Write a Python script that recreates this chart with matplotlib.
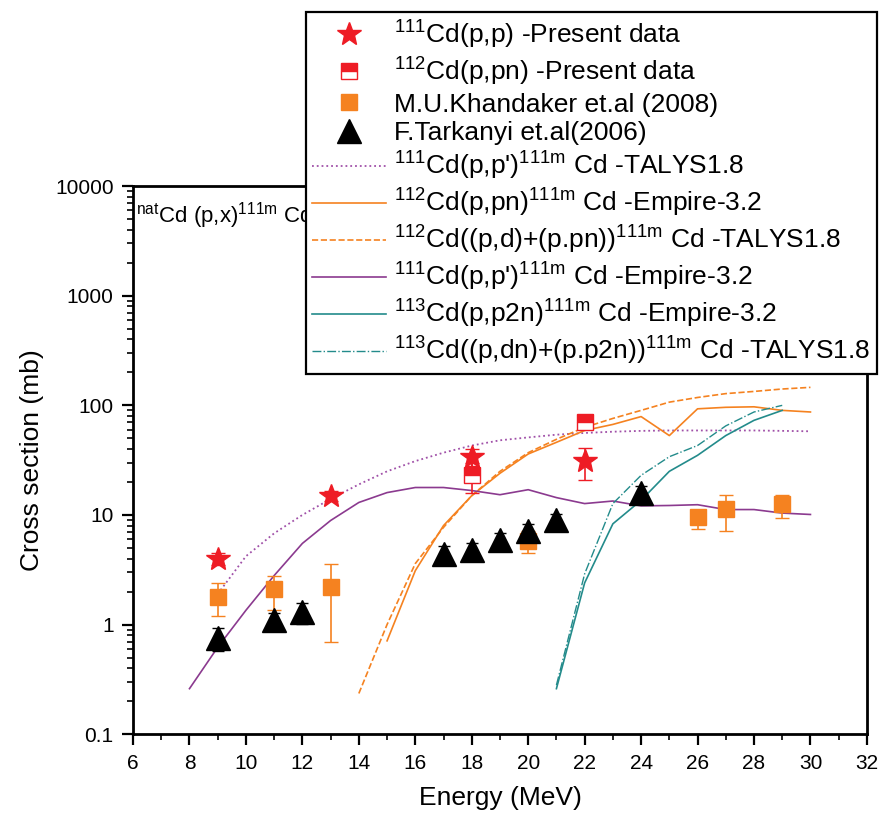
import numpy as np
import matplotlib.pyplot as plt
from matplotlib.lines import Line2D

plt.rcParams['font.family'] = ['Liberation Sans', 'DejaVu Sans']
plt.rcParams['mathtext.fontset'] = 'custom'
plt.rcParams['mathtext.rm'] = 'Liberation Sans'
plt.rcParams['mathtext.it'] = 'Liberation Sans'

# --- data ---
# 111Cd(p,p) present data
pp_E = [9, 13, 18, 22]
pp_xs = [4.0, 15.0, 34.0, 31.0]
pp_err = [0.5, 1.5, 6.0, 10.0]

# 112Cd(p,pn) present data
ppn_E = [18, 22]
ppn_xs = [23.0, 70.0]
ppn_err = [7.0, 6.0]

# Khandaker 2008
kh_E = [9, 11, 13, 20, 26, 27, 29]
kh_xs = [1.8, 2.1, 2.2, 5.8, 9.5, 11.4, 12.5]
kh_lo = [1.2, 1.37, 0.69, 4.5, 7.4, 7.1, 9.3]
kh_hi = [2.4, 2.75, 3.6, 7.2, 10.6, 15.3, 15.1]

# Tarkanyi 2006
tk_E = [9, 11, 12, 17, 18, 19, 20, 21, 24]
tk_xs = [0.75, 1.1, 1.3, 4.4, 4.8, 5.9, 7.2, 9.0, 16.0]
tk_err = [0.18, 0.18, 0.28, 0.8, 0.8, 0.9, 1.0, 1.3, 2.5]

# model curves
talys_pp_E = [9, 10, 11, 12, 13, 14, 15, 16, 17, 18, 19, 20, 21, 22, 23, 24, 25, 26, 27, 28, 29, 30]
talys_pp = [1.9, 4.2, 6.8, 10, 14, 19, 25, 31, 37, 43, 48, 51, 54, 56, 57.5, 58.5, 59, 59, 59, 59, 58.5, 58]

emp_ppn_E = [15, 16, 17, 18, 19, 20, 21, 22, 23, 24, 25, 26, 27, 28, 29, 30]
emp_ppn = [0.71, 3.1, 8.0, 15, 24, 36, 46, 59, 67, 79, 53, 93, 96, 97, 90, 87]

talys_ppn_E = [14, 15, 16, 17, 18, 19, 20, 21, 22, 23, 24, 25, 26, 27, 28, 29, 30]
talys_ppn = [0.235, 1.0, 3.6, 7.7, 15, 25, 37, 49, 63, 76, 90, 107, 118, 128, 134, 141, 146]

emp_pp_E = [8, 9, 10, 11, 12, 13, 14, 15, 16, 17, 18, 19, 20, 21, 22, 23, 24, 25, 26, 27, 28, 29, 30]
emp_pp = [0.26, 0.62, 1.35, 2.8, 5.5, 8.9, 13, 16, 17.8, 17.8, 16.7, 15.3, 17.0, 14.4, 12.7, 13.4, 12.1, 12.2, 12.4, 11.2, 11.2, 10.4, 10.1]

emp_p2n_E = [21, 22, 23, 24, 25, 26, 27, 28, 29]
emp_p2n = [0.26, 2.4, 8.3, 13.6, 25, 35, 53, 73, 90]

talys_p2n_E = [21, 22, 23, 24, 25, 26, 27, 28, 29]
talys_p2n = [0.28, 2.9, 12.7, 23, 34, 43, 65, 87, 100]

red = '#ee1c25'
orange = '#f58220'
purple = '#8b3a8f'
teal = '#238b8b'

fig = plt.figure(figsize=(8.81, 8.13), dpi=100)
ax = fig.add_axes([0.151, 0.097, 0.833, 0.674])

ax.plot(talys_pp_E, talys_pp, ':', color='#a050a8', lw=1.3)
ax.plot(emp_ppn_E, emp_ppn, '-', color=orange, lw=1.2)
ax.plot(talys_ppn_E, talys_ppn, '--', color=orange, lw=1.2)
ax.plot(emp_pp_E, emp_pp, '-', color=purple, lw=1.2)
ax.plot(emp_p2n_E, emp_p2n, '-', color=teal, lw=1.2)
ax.plot(talys_p2n_E, talys_p2n, '-.', color=teal, lw=1.0)

kh_yerr = [np.array(kh_xs) - np.array(kh_lo), np.array(kh_hi) - np.array(kh_xs)]
ax.errorbar(kh_E, kh_xs, yerr=kh_yerr, fmt='s', color=orange, ms=12, capsize=5, elinewidth=1.2, zorder=4)
ax.errorbar(tk_E, tk_xs, yerr=tk_err, fmt='^', color='black', ms=17, capsize=4, elinewidth=1.2, zorder=5)
ax.errorbar(ppn_E, ppn_xs, yerr=ppn_err, fmt='s', color=red, ms=12, capsize=5, elinewidth=1.2,
            fillstyle='top', markerfacecoloralt='white', zorder=6)
ax.errorbar(pp_E, pp_xs, yerr=pp_err, fmt='*', color=red, ms=18, capsize=5, elinewidth=1.2, zorder=7)

ax.set_yscale('log')
ax.set_ylim(0.1, 10000)
ax.set_xlim(6, 32)
ax.set_xticks(np.arange(6, 33, 2))
ax.set_xticks(np.arange(7, 32, 2), minor=True)
ax.set_yticks([0.1, 1, 10, 100, 1000, 10000])
ax.set_yticklabels(['0.1', '1', '10', '100', '1000', '10000'])
ax.tick_params(which='major', direction='out', length=8, width=1.6, labelsize=15, pad=6)
ax.tick_params(which='minor', direction='out', length=4, width=1.2)
for s in ax.spines.values():
    s.set_linewidth(2)

ax.set_xlabel('Energy (MeV)', fontsize=19, labelpad=10)
ax.set_ylabel('Cross section (mb)', fontsize=19, labelpad=8)
ax.text(0.004, 0.975, r'$^{nat}$Cd (p,x)$^{111m}$ Cd', transform=ax.transAxes, fontsize=16, va='top')

handles = [
    Line2D([], [], marker='*', color=red, ls='none', ms=18),
    Line2D([], [], marker='s', color=red, ls='none', ms=11, fillstyle='top', markerfacecoloralt='white'),
    Line2D([], [], marker='s', color=orange, ls='none', ms=11),
    Line2D([], [], marker='^', color='black', ls='none', ms=17),
    Line2D([], [], ls=':', color='#a050a8', lw=1.3),
    Line2D([], [], ls='-', color=orange, lw=1.2),
    Line2D([], [], ls='--', color=orange, lw=1.2),
    Line2D([], [], ls='-', color=purple, lw=1.2),
    Line2D([], [], ls='-', color=teal, lw=1.2),
    Line2D([], [], ls='-.', color=teal, lw=1.0),
]
labels = [
    r'$^{111}$Cd(p,p) -Present data',
    r'$^{112}$Cd(p,pn) -Present data',
    'M.U.Khandaker et.al (2008)',
    'F.Tarkanyi et.al(2006)',
    r"$^{111}$Cd(p,p')$^{111m}$ Cd -TALYS1.8",
    r'$^{112}$Cd(p,pn)$^{111m}$ Cd -Empire-3.2',
    r'$^{112}$Cd((p,d)+(p.pn))$^{111m}$ Cd -TALYS1.8',
    r"$^{111}$Cd(p,p')$^{111m}$ Cd -Empire-3.2",
    r'$^{113}$Cd(p,p2n)$^{111m}$ Cd -Empire-3.2',
    r'$^{113}$Cd((p,dn)+(p.p2n))$^{111m}$ Cd -TALYS1.8',
]
leg = ax.legend(handles, labels, loc='upper left', bbox_to_anchor=(0.347, 0.985),
                bbox_transform=fig.transFigure, fontsize=19, handlelength=2.8,
                handletextpad=0.3, labelspacing=0.18, borderpad=0.25, fancybox=False,
                framealpha=1, edgecolor='black', borderaxespad=0)
leg.get_frame().set_linewidth(1.6)

fig.savefig('out.png', dpi=100)
